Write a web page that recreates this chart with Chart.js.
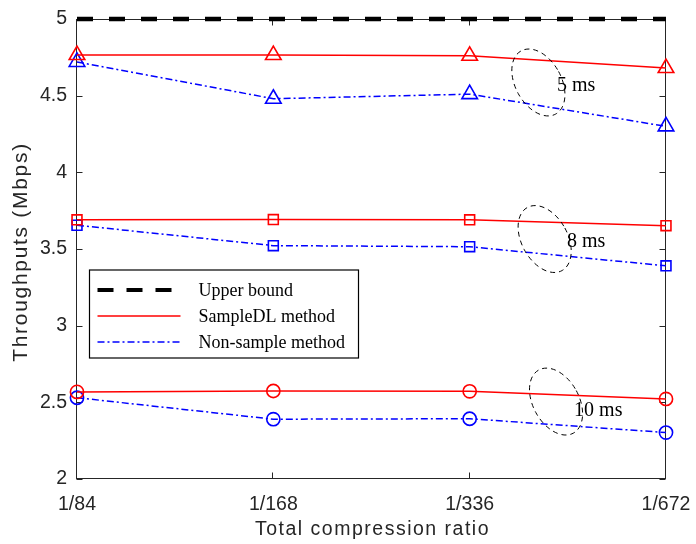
<!DOCTYPE html>
<html>
<head>
<meta charset="utf-8">
<script src="https://cdn.jsdelivr.net/npm/chart.js@4.4.1/dist/chart.umd.min.js"></script>
<style>
  html, body { margin: 0; padding: 0; background: #fff; }
  canvas { display: block; }
</style>
</head>
<body>
<canvas id="chart" width="696" height="544"></canvas>
<script>
// values
const categories = ['1/84', '1/168', '1/336', '1/672'];
const upperBound = [5, 5, 5, 5];
const sampleDL5 = [4.765, 4.765, 4.76, 4.68];
const nonSample5 = [4.72, 4.48, 4.51, 4.30];
const sampleDL8 = [3.69, 3.692, 3.69, 3.652];
const nonSample8 = [3.655, 3.522, 3.515, 3.39];
const sampleDL10 = [2.568, 2.574, 2.572, 2.522];
const nonSample10 = [2.53, 2.39, 2.393, 2.303];
const yTicks = [2, 2.5, 3, 3.5, 4, 4.5, 5];
const legendLabels = ['Upper bound', 'SampleDL method', 'Non-sample method'];

// delay group labels, anchored in data space (x = category index)
const delayNotes = [
  { text: '5 ms', ex: 2.35, ey: 4.586, tx: 2.445, ty: 4.532 },
  { text: '8 ms', ex: 2.382, ey: 3.565, tx: 2.496, ty: 3.515 },
  { text: '10 ms', ex: 2.44, ey: 2.505, tx: 2.532, ty: 2.41 }
];

const AXIS = '#262626';
const RED = '#ff0000';
const BLUE = '#0000ff';
const SANS = '"Liberation Sans", Arial, Helvetica, sans-serif';
const SERIF = '"Liberation Serif", "Times New Roman", serif';

function series(label, data, color, dash, style, radius) {
  return {
    label, data,
    borderColor: color,
    backgroundColor: 'rgba(0,0,0,0)',
    borderWidth: 1.5,
    borderDash: dash,
    pointStyle: style,
    pointRadius: radius,
    pointBorderWidth: 1.6,
    pointBorderColor: color,
    pointBackgroundColor: 'rgba(0,0,0,0)',
    tension: 0,
    fill: false,
    clip: false
  };
}

const dotDash = [7, 3, 2, 3];
const datasets = [
  {
    label: 'Upper bound', data: upperBound,
    borderColor: '#000', borderWidth: 4.5, borderDash: [16, 16],
    pointRadius: 0, fill: false, clip: false
  },
  series('SampleDL method', sampleDL5, RED, [], 'triangle', 9),
  series('SampleDL method', sampleDL8, RED, [], 'rect', 7),
  series('SampleDL method', sampleDL10, RED, [], 'circle', 6.6),
  series('Non-sample method', nonSample5, BLUE, dotDash, 'triangle', 9),
  series('Non-sample method', nonSample8, BLUE, dotDash, 'rect', 7),
  series('Non-sample method', nonSample10, BLUE, dotDash, 'circle', 6.6)
];

// box, inward ticks, axis titles
const frame = {
  id: 'frame',
  beforeDatasetsDraw(chart) {
    const { ctx, chartArea: a, scales: { x, y } } = chart;
    const L = Math.round(a.left) - 0.5, R = Math.round(a.right) - 0.5;
    const T = Math.round(a.top) + 0.5, B = Math.round(a.bottom) - 0.5;
    ctx.save();
    ctx.strokeStyle = AXIS;
    ctx.lineWidth = 1;
    ctx.strokeRect(L, T, R - L, B - T);
    ctx.beginPath();
    categories.forEach((c, i) => {
      const px = Math.round(x.getPixelForValue(i)) - 0.5;
      ctx.moveTo(px, B); ctx.lineTo(px, B - 6);
      ctx.moveTo(px, T); ctx.lineTo(px, T + 6);
    });
    yTicks.forEach(v => {
      const py = Math.round(y.getPixelForValue(v)) + 0.5;
      ctx.moveTo(L, py); ctx.lineTo(L + 6, py);
      ctx.moveTo(R, py); ctx.lineTo(R - 6, py);
    });
    ctx.stroke();
    ctx.restore();
  },
  afterDraw(chart) {
    const { ctx, chartArea: a } = chart;
    ctx.save();
    ctx.fillStyle = AXIS;
    ctx.textAlign = 'center';
    ctx.textBaseline = 'alphabetic';
    ctx.font = '19.5px ' + SANS;
    ctx.letterSpacing = '1.5px';
    ctx.fillText('Total compression ratio', (a.left + a.right) / 2 + 1, 535);
    ctx.translate(27, (a.top + a.bottom) / 2 + 3);
    ctx.rotate(-Math.PI / 2);
    ctx.font = '21px ' + SANS;
    ctx.letterSpacing = '1.7px';
    ctx.fillText('Throughputs (Mbps)', 0, 0);
    ctx.restore();
  }
};

// dashed ellipses + delay text
const notes = {
  id: 'notes',
  afterDraw(chart) {
    const { ctx, scales: { x, y } } = chart;
    ctx.save();
    ctx.strokeStyle = '#000';
    ctx.lineWidth = 1;
    ctx.setLineDash([5, 4]);
    ctx.fillStyle = '#000';
    ctx.font = '20px ' + SERIF;
    ctx.textAlign = 'left';
    ctx.textBaseline = 'alphabetic';
    delayNotes.forEach(n => {
      ctx.beginPath();
      ctx.ellipse(x.getPixelForValue(n.ex), y.getPixelForValue(n.ey), 23, 36, -0.5, 0, Math.PI * 2);
      ctx.stroke();
      ctx.fillText(n.text, x.getPixelForValue(n.tx), y.getPixelForValue(n.ty));
    });
    ctx.restore();
  }
};

// boxed legend inside the plot
const boxLegend = {
  id: 'boxLegend',
  afterDraw(chart) {
    const { ctx, chartArea: a } = chart;
    const left = a.left + 12.5, top = a.top + 251;
    const w = 269, h = 88;
    const styles = [chart.data.datasets[0], chart.data.datasets[1], chart.data.datasets[4]];
    ctx.save();
    ctx.fillStyle = '#fff';
    ctx.fillRect(left, top, w, h);
    ctx.strokeStyle = '#000';
    ctx.lineWidth = 1.2;
    ctx.setLineDash([]);
    ctx.strokeRect(left, top, w, h);
    ctx.font = '18px ' + SERIF;
    ctx.textBaseline = 'middle';
    ctx.textAlign = 'left';
    legendLabels.forEach((lab, i) => {
      const ry = top + 20 + i * 26;
      const ds = styles[i];
      ctx.beginPath();
      ctx.strokeStyle = ds.borderColor;
      ctx.lineWidth = i === 0 ? 4 : 1.6;
      ctx.setLineDash(i === 0 ? [16, 13] : ds.borderDash);
      ctx.moveTo(left + 8, ry);
      ctx.lineTo(left + 91, ry);
      ctx.stroke();
      ctx.setLineDash([]);
      ctx.fillStyle = '#000';
      ctx.fillText(lab, left + 109, ry + 1);
    });
    ctx.restore();
  }
};

new Chart(document.getElementById('chart'), {
  type: 'line',
  data: { labels: categories, datasets },
  options: {
    responsive: false,
    devicePixelRatio: 1,
    animation: false,
    events: [],
    layout: { padding: { top: 19, right: 30, bottom: 0, left: 0 } },
    plugins: { legend: { display: false }, tooltip: { enabled: false } },
    scales: {
      x: {
        type: 'category',
        offset: false,
        grid: { display: false, drawTicks: false },
        border: { display: false },
        ticks: { color: AXIS, font: { family: SANS, size: 19.5 }, padding: 14, maxRotation: 0, autoSkip: false },
        afterFit: s => { s.height = 65; s.paddingLeft = 0; s.paddingRight = 0; }
      },
      y: {
        min: 2, max: 5,
        grid: { display: false, drawTicks: false },
        border: { display: false },
        afterBuildTicks: s => { s.ticks = yTicks.map(v => ({ value: v })); },
        ticks: { color: AXIS, font: { family: SANS, size: 19.5 }, padding: 10, callback: v => String(v) },
        afterFit: s => { s.width = 77; s.paddingTop = 0; s.paddingBottom = 0; }
      }
    }
  },
  plugins: [frame, notes, boxLegend]
});
</script>
</body>
</html>
